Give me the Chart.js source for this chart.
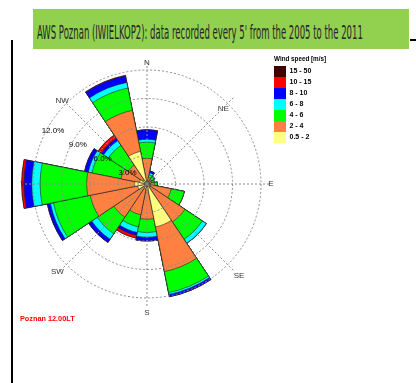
<!DOCTYPE html>
<html>
<head>
<meta charset="utf-8">
<script src="https://cdn.jsdelivr.net/npm/chart.js@4/dist/chart.umd.min.js"></script>
<style>
  html, body { margin: 0; padding: 0; background: #fff; }
  body { width: 416px; height: 383px; position: relative; overflow: hidden; }
  #wrap { position: absolute; left: 0; top: 0; width: 416px; height: 383px; }
  #banner { position: absolute; left: 33px; top: 9px; width: 376px; height: 40px; background: #92d050; overflow: hidden; }
  #banner span { position: absolute; left: 4px; top: 13px; font-size: 20px; line-height: 20px;
    font-family: "Liberation Sans Narrow", "DejaVu Sans Condensed", "Liberation Sans", sans-serif;
    color: #262626; white-space: nowrap; transform-origin: 0 0; }
  #rule { position: absolute; left: 11px; top: 40px; width: 2px; height: 343px; background: #000; }
  #dash { position: absolute; left: 410px; top: 39px; width: 6px; height: 2px; background: #000; }
</style>
</head>
<body>
<div id="wrap"><canvas id="rose" width="416" height="383"></canvas></div>
<div id="banner"><span id="bannerText">AWS Poznan (IWIELKOP2): data recorded every 5' from the 2005 to the 2011</span></div>
<div id="rule"></div>
<div id="dash"></div>
<script>
// Wind directions (16 sectors, clockwise from north)
const directions = ['N', 'NNE', 'NE', 'ENE', 'E', 'ESE', 'SE', 'SSE', 'S', 'SSW', 'SW', 'WSW', 'W', 'WNW', 'NW', 'NNW'];
const mainDirections = ['N', 'NE', 'E', 'SE', 'S', 'SW', 'W', 'NW'];

// Wind speed classes [m/s]
const speedClasses = ['0.5 - 2', '2 - 4', '4 - 6', '6 - 8', '8 - 10', '10 - 15', '15 - 50'];

// Frequency (% of records) of each speed class, per direction
const freq_0_5_2 = [0.4, 0.3, 0.3, 0.3, 0.3, 0.4, 0.3, 4.6, 0.6, 0.5, 0.4, 1.0, 1.3, 0.8, 0.6, 3.5];
const freq_2_4   = [2.3, 0.4, 0.3, 0.2, 0.5, 2.2, 4.5, 4.8, 3.1, 2.8, 3.8, 5.1, 5.05, 2.0, 1.8, 4.4];
const freq_4_6   = [1.7, 0.3, 0.3, 0.2, 0.3, 1.4, 2.2, 2.25, 1.4, 1.3, 2.1, 3.95, 4.9, 3.1, 2.5, 2.4];
const freq_6_8   = [0.3, 0.2, 0.1, 0.1, 0.0, 0.0, 0.5, 0.2, 0.5, 0.6, 0.7, 0.32, 0.88, 0.4, 0.6, 0.6];
const freq_8_10  = [1.0, 0.2, 0.0, 0.0, 0.0, 0.0, 0.0, 0.25, 0.4, 0.3, 0.4, 0.33, 0.81, 0.4, 0.3, 0.7];
const freq_10_15 = [0.0, 0.0, 0.0, 0.0, 0.0, 0.0, 0.0, 0.0, 0.0, 0.3, 0.0, 0.0, 0.25, 0.0, 0.4, 0.05];
const freq_15_50 = [0.0, 0.0, 0.0, 0.0, 0.0, 0.0, 0.0, 0.0, 0.0, 0.0, 0.0, 0.0, 0.0, 0.0, 0.0, 0.0];

// Frequency rings [%]
const ringValues = [3, 6, 9, 12];

const classColors = ['#ffff80', '#ff8040', '#00ff00', '#00ffff', '#0000ff', '#ff0000', '#400000'];
const classFreqs = [freq_0_5_2, freq_2_4, freq_4_6, freq_6_8, freq_8_10, freq_10_15, freq_15_50];

// Banner title squeezed to its box width
const bt = document.getElementById('bannerText');
bt.style.transform = 'scaleX(' + (326 / bt.offsetWidth) + ')';

// Stack the classes: each dataset reaches the cumulative frequency of its class,
// the first (slowest) dataset is drawn last, on top.
let running = new Array(directions.length).fill(0);
const datasets = classFreqs.map((f, c) => {
  running = running.map((v, i) => v + f[i]);
  return {
    label: speedClasses[c],
    data: running.slice(),
    backgroundColor: classColors[c],
    borderColor: '#222222',
    borderWidth: 0.6,
    clip: false
  };
});

// The radial scale carries two label slots per sector: sector edge, then sector centre.
const scaleLabels = directions.flatMap(d => ['', d]);

const labelPadding = { N: -5.3, NE: -22, E: -0.8, SE: 0.7, S: 2.4, SW: -4.5, W: -3, NW: -11.5 };
const ringLabelBearing = 299.5;

const ringLabels = {
  id: 'ringLabels',
  afterDraw(chart) {
    const r = chart.scales.r;
    const ctx = chart.ctx;
    const a = ringLabelBearing * Math.PI / 180;
    ctx.save();
    ctx.font = '8px "Liberation Sans", Arial, sans-serif';
    ctx.fillStyle = '#000';
    ctx.textAlign = 'center';
    ctx.textBaseline = 'middle';
    ringValues.forEach(v => {
      const d = r.getDistanceFromCenterForValue(v) - 6;
      ctx.fillText(v.toFixed(1) + '%', r.xCenter + d * Math.sin(a), r.yCenter - d * Math.cos(a));
    });
    ctx.restore();
  }
};

// trailing no-break spaces leave room in the legend column for its title
const legendGap = '\u00a0'.repeat(8);

new Chart(document.getElementById('rose'), {
  type: 'polarArea',
  data: { labels: scaleLabels, datasets },
  plugins: [ringLabels],
  options: {
    responsive: false,
    animation: false,
    layout: { padding: { left: 20, top: 53, right: 82, bottom: 59.64 } },
    scales: {
      r: {
        min: 0,
        max: 12.84,
        startAngle: -11.2499,
        ticks: { display: false, stepSize: 3 },
        afterBuildTicks: (scale) => {
          scale.ticks = scale.ticks.filter(t => t.value === 0 || ringValues.includes(t.value));
        },
        grid: { circular: true, color: '#8c8c8c', lineWidth: 1, z: 1 },
        border: { dash: [2, 2] },
        angleLines: {
          display: true,
          color: '#8c8c8c',
          lineWidth: (ctx) => (ctx.index % 4 === 1 ? 1 : 0),
          borderDash: [2, 2]
        },
        pointLabels: {
          display: true,
          color: '#333333',
          font: { family: '"Liberation Sans", Arial, sans-serif', size: 8 },
          callback: (label) => (mainDirections.includes(label) ? label : ''),
          padding: (ctx) => (labelPadding[ctx.label] !== undefined ? labelPadding[ctx.label] : -60)
        }
      }
    },
    plugins: {
      tooltip: { enabled: false },
      title: { display: false },
      subtitle: {
        display: true,
        text: 'Poznan 12.00LT',
        position: 'bottom',
        align: 'start',
        color: '#ff0000',
        font: { family: '"Liberation Sans", Arial, sans-serif', size: 7.3, weight: 'bold' },
        padding: { top: -6.4, bottom: 0 }
      },
      legend: {
        position: 'right',
        align: 'start',
        maxWidth: 60,
        onClick: () => {},
        title: {
          display: true,
          text: 'Wind speed [m/s]',
          position: 'start',
          color: '#000',
          font: { family: '"Liberation Sans", Arial, sans-serif', size: 6.3, weight: 'bold' },
          padding: { top: 3.6, bottom: 1.8 }
        },
        labels: {
          boxWidth: 12,
          boxHeight: 11,
          padding: 0,
          color: '#000',
          font: { family: '"Liberation Sans", Arial, sans-serif', size: 7, weight: 'bold' },
          generateLabels: (chart) => chart.data.datasets.map((ds, i) => ({
            text: ds.label + legendGap,
            fillStyle: ds.backgroundColor,
            strokeStyle: ds.backgroundColor,
            lineWidth: 0,
            hidden: false,
            datasetIndex: i
          })).reverse()
        }
      }
    }
  }
});
</script>
</body>
</html>
